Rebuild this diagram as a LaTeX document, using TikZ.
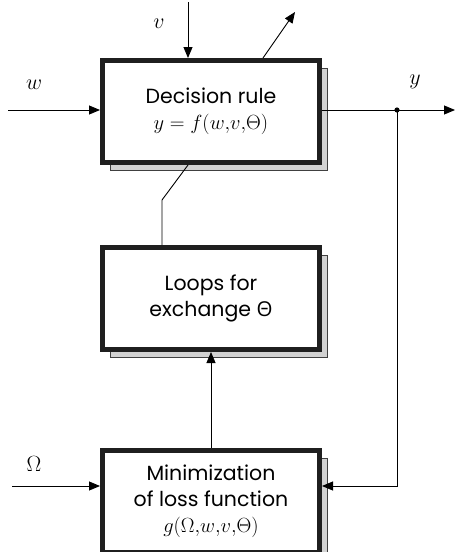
\RequirePackage{fix-cm}
\documentclass[tikz,border=0pt]{standalone}
\usepackage{fontspec}
\setmainfont{Poppins}
\newfontfamily\greekfont{Open Sans}
\usepackage{tikz}
\usetikzlibrary{arrows.meta, positioning, shadows, calc}

\begin{document}
\begin{tikzpicture}[
                x=1pt, y=-1pt,
                block/.style={rectangle, draw=black!88, line width=5pt, fill=white,
                    minimum width=217pt, minimum height=102pt, inner sep=0pt, align=center,
                    font=\fontsize{20.5}{26}\selectfont,
                    general shadow={fill=gray!35, draw=black!75, line width=0.9pt,
                        shadow xshift=8pt, shadow yshift=-8pt}},
                arr/.style={line width=0.9pt, -{Triangle[length=11pt, width=9pt]}},
                wire/.style={line width=0.9pt},
                lbl/.style={font=\fontsize{22}{24}\selectfont}
            ]
                \useasboundingbox (0,0) rectangle (456,552);

                % Blocks
                \node[block] (dec) at (211,111.5) {Decision rule\\$y = f(w{,}v{,}\Theta)$};
                \node[block, below=80pt of dec] (loops) {Loops for\\exchange {\greekfont Θ}};
                \node[block, below=96pt of loops] (min) {Minimization\\of loss function\\$g(\Omega{,}w{,}v{,}\Theta)$};

                % Free ends
                \coordinate (vin) at (188,2);
                \coordinate (wout) at (295,12);
                \coordinate (win) at (8,110);
                \coordinate (ydot) at (397,110);
                \coordinate (yend) at (455,110);
                \coordinate (omin) at (12,486);
                \coordinate (bend) at (162,200);

                % Connectors
                \draw[arr] (vin) -- (vin |- dec.north);
                \draw[arr] ($(dec.north)+(52,0)$) -- (wout);
                \draw[arr] (win) -- (win -| dec.west);
                \draw[wire] (ydot -| dec.east) -- (ydot);
                \draw[arr] (ydot) -- (yend);
                \fill (ydot) circle (2.6pt);
                \draw[arr] (ydot) |- (omin -| min.east);
                \draw[arr] (omin) -- (omin -| min.west);
                \draw[wire] (vin |- dec.south) -- (bend) -- (bend |- loops.north);
                \draw[arr] (min.north) -- (loops.south);

                % Labels
                \node[lbl] (vlbl) at (159,24) {$v$};
                \node[lbl] (wlbl) at (34,85) {$w$};
                \node[lbl] (ylbl) at (415,82) {$y$};
                \node[lbl] (olbl) at (34,464) {$\Omega$};
            \end{tikzpicture}
\end{document}
